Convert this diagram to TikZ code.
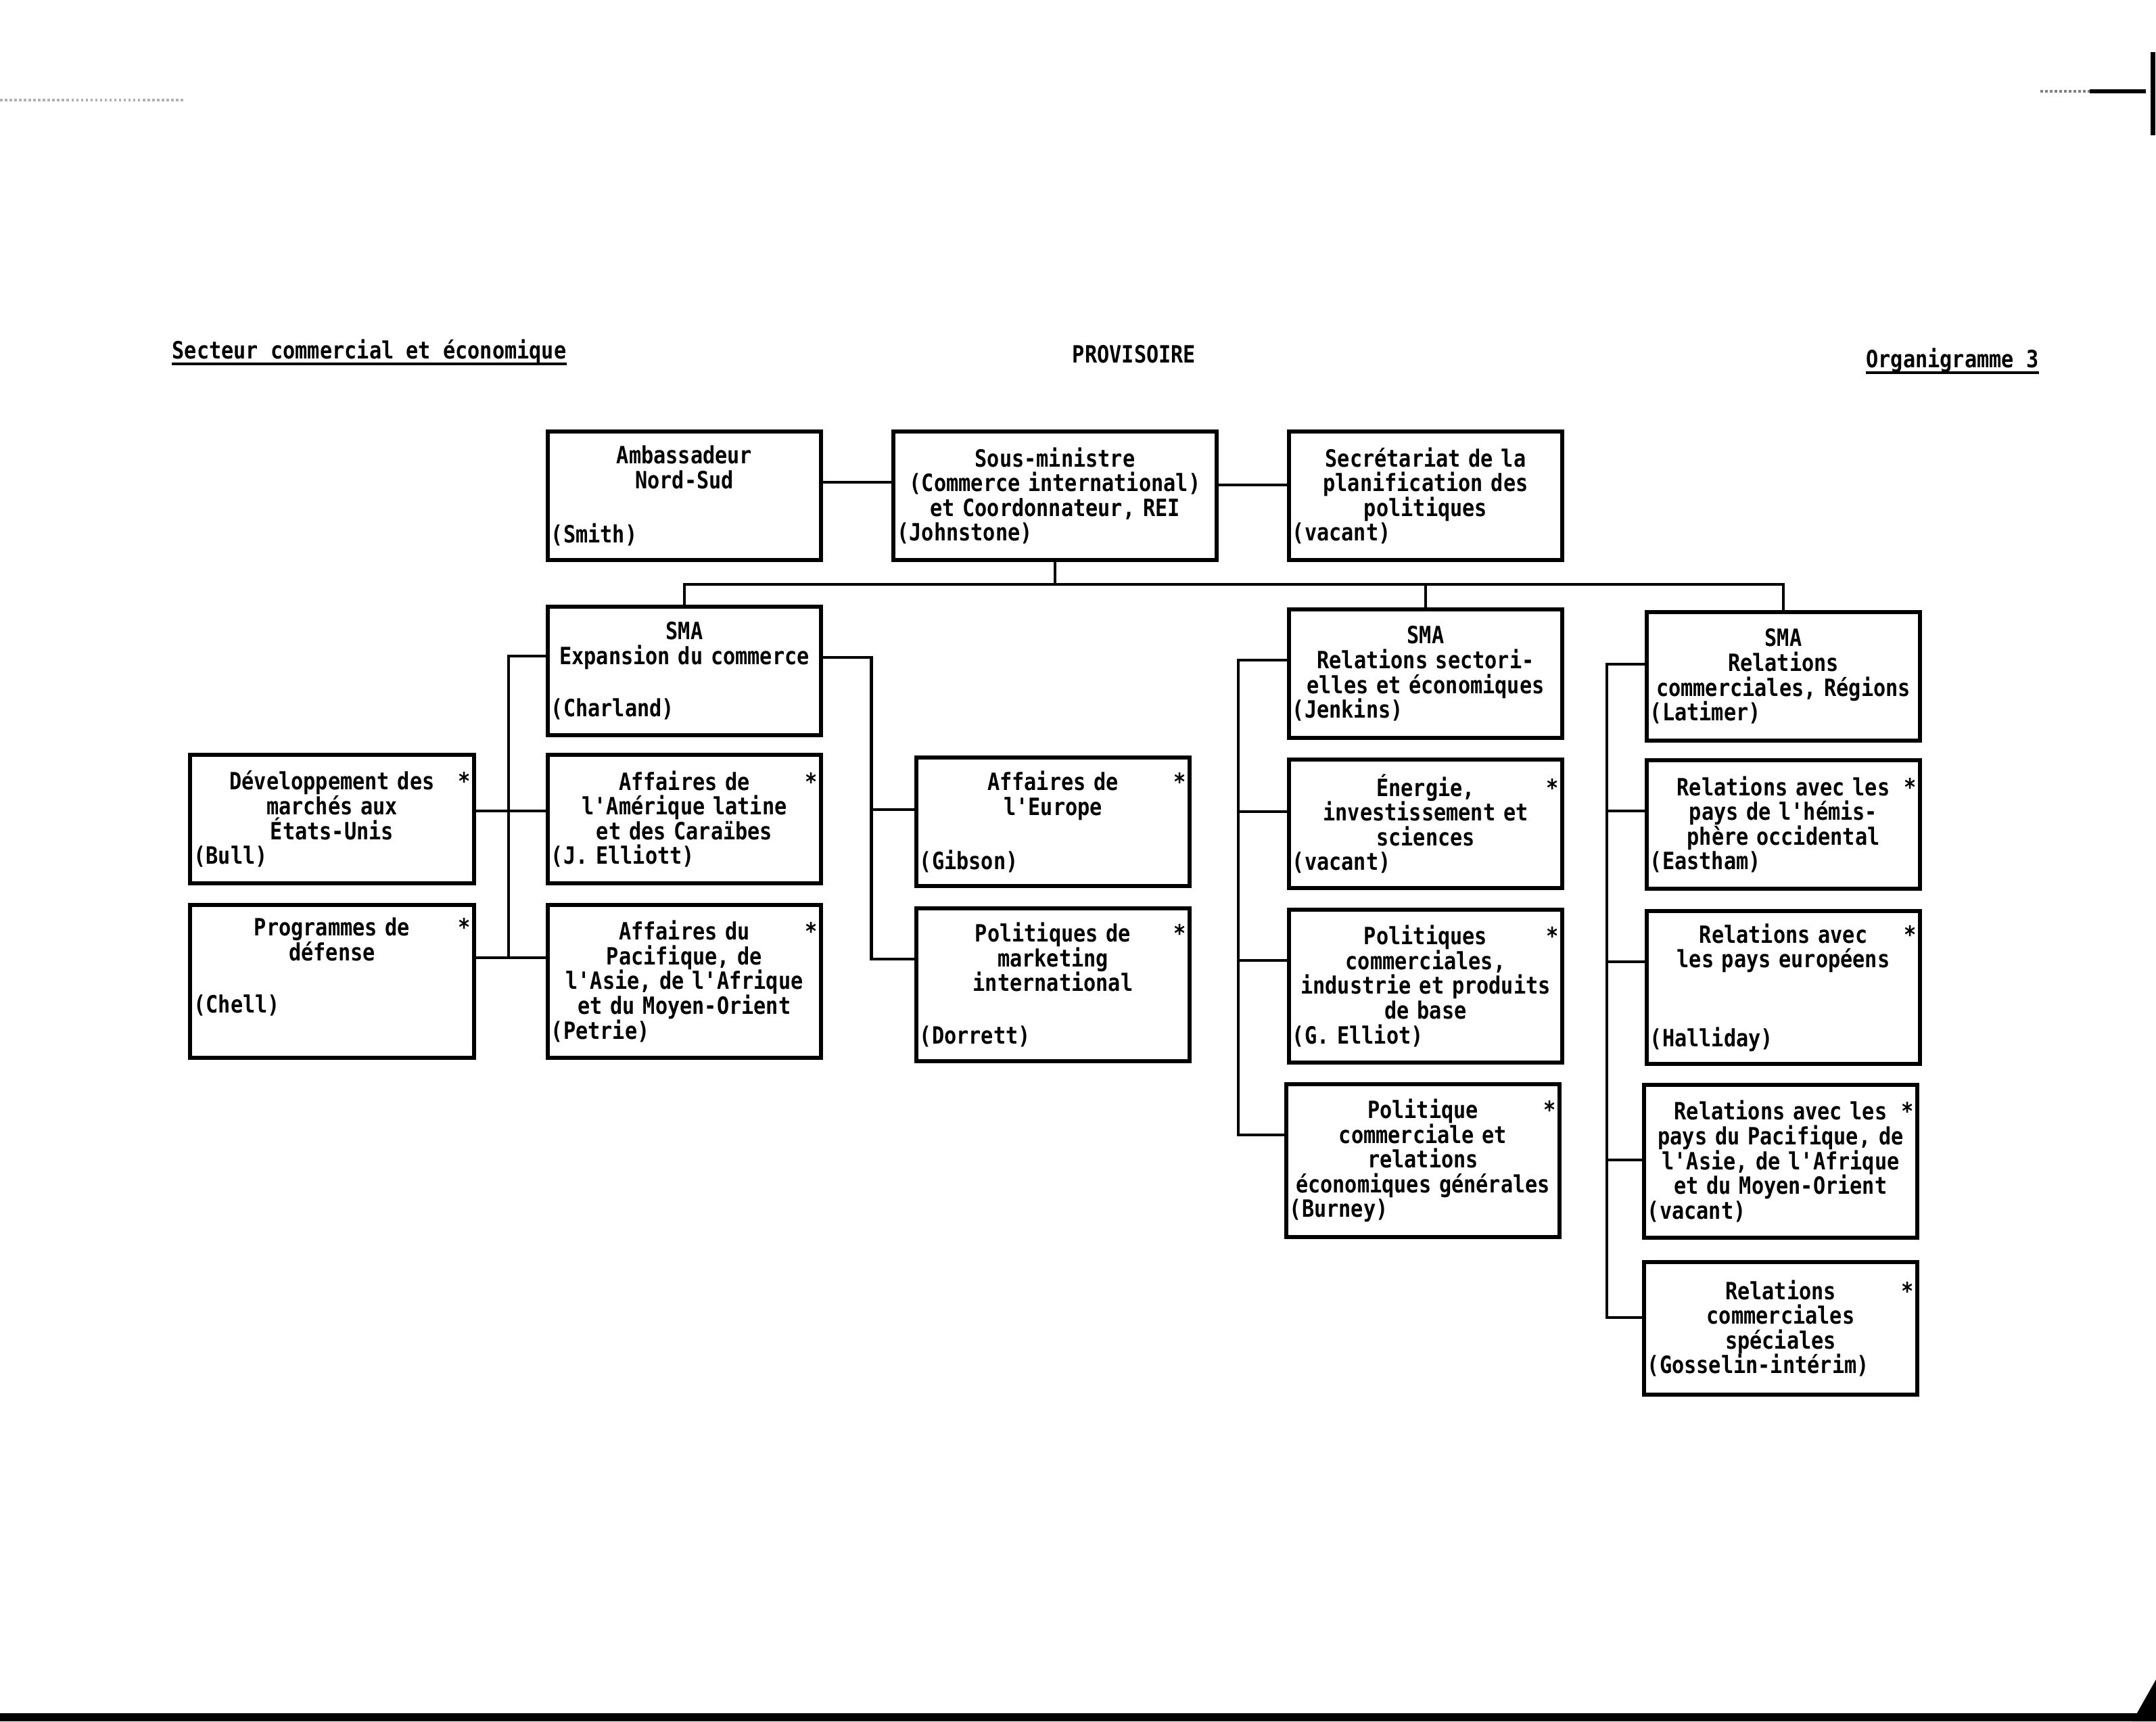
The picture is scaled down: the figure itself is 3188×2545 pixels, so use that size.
\documentclass[tikz,border=0pt]{standalone}
\usepackage{fontspec}
\usepackage{tikz}
\usetikzlibrary{calc}
\newfontfamily\orgfont[FakeStretch=0.86]{DejaVu Sans Mono}
\newcommand{\who}[1]{\makebox[\hsize][l]{#1}}
\newcommand{\hd}[1]{\makebox[\hsize]{\hfill#1\hfill\llap{*}}}

\begin{document}
\begin{tikzpicture}[x=0.01cm, y=-0.01cm,
    every node/.style={font=\orgfont\bfseries\fontsize{10}{10.4}\selectfont},
    poste/.style={draw, line width=1.7pt, inner xsep=1.5pt, inner ysep=0pt, align=center,
                  text width=3.94cm, minimum height=1.89cm},
    postehaut/.style={poste, minimum height=2.26cm},
    lien/.style={line width=1.2pt},
    titre/.style={inner sep=0pt}]
    \useasboundingbox (0,0) rectangle (3188,2545);

    % En-tete
    \node[titre, anchor=west] (secteur) at (254,520) {Secteur commercial et économique};
    \draw[lien] ([yshift=-2pt]secteur.base west) -- ([yshift=-2pt]secteur.base east);
    \node[titre] (prov) at (1677,524) {PROVISOIRE};
    \node[titre, anchor=east] (organi) at (3015,533) {Organigramme 3};
    \draw[lien] ([yshift=-2pt]organi.base west) -- ([yshift=-2pt]organi.base east);

    % Sous-ministre et voisins
    \node[poste] (amb) at (1012,733) {Ambassadeur\\Nord-Sud\\ \strut\\ \who{(Smith)}};
    \node[poste, text width=4.67cm] (sm) at (1560,733) {
        Sous-ministre\\
        (Commerce international)\\
        et Coordonnateur, REI\\
        \who{(Johnstone)}};
    \node[poste] (sec) at (2108,733) {Secrétariat de la\\planification des\\politiques\\ \who{(vacant)}};
    \draw[lien] ([yshift=0.2cm]amb.east) -- ([yshift=0.2cm]amb.east -| sm.west);
    \draw[lien] ([yshift=0.16cm]sm.east) -- ([yshift=0.16cm]sm.east -| sec.west);

    % SMA
    \node[poste] (sma1) at (1012,992) {SMA\\Expansion du commerce\\ \strut\\ \who{(Charland)}};
    \node[poste] (sma2) at (2108,996) {SMA\\Relations sectori-\\elles et économiques\\ \who{(Jenkins)}};
    \node[poste] (sma3) at (2637,1000) {SMA\\Relations\\commerciales, Régions\\ \who{(Latimer)}};
    \coordinate (bus) at (1560,864);
    \draw[lien] (sm.south) -- (sm.south |- bus);
    \draw[lien] (sma1.north) |- (bus) -| (sma3.north);
    \draw[lien] (sma2.north) -- (sma2.north |- bus);

    % Expansion du commerce
    \node[poste, text width=4.09cm] (dev) at (491,1211) {
        \hd{Développement des}\\marchés aux\\États-Unis\\ \who{(Bull)}};
    \node[postehaut, text width=4.09cm] (prog) at (491,1451) {
        \hd{Programmes de}\\défense\\ \strut\\ \who{(Chell)}\\ \strut};
    \node[poste] (aflat) at (1012,1211) {
        \hd{Affaires de}\\l'Amérique latine\\et des Caraïbes\\ \who{(J. Elliott)}};
    \node[postehaut] (afpac) at (1012,1451) {
        \hd{Affaires du}\\Pacifique, de\\l'Asie, de l'Afrique\\et du Moyen-Orient\\ \who{(Petrie)}};
    \node[poste] (europe) at (1557,1215) {
        \hd{Affaires de}\\l'Europe\\ \strut\\ \who{(Gibson)}};
    \node[postehaut] (mkt) at (1557,1456) {
        \hd{Politiques de}\\marketing\\international\\ \strut\\ \who{(Dorrett)}};
    \draw[lien] ([yshift=0.22cm]sma1.west) -- ++(-55,0) coordinate (t1) |- ([yshift=0.35cm]afpac.west);
    \draw[lien] ([yshift=0.12cm]dev.east) -- ([yshift=0.12cm]aflat.west);
    \draw[lien] ([yshift=0.35cm]prog.east) -- ([yshift=0.35cm]afpac.west);
    \draw[lien] ([yshift=0.2cm]sma1.east) -- ++(71,0) coordinate (t2) |- ([yshift=0.38cm]mkt.west);
    \draw[lien] ([yshift=0.18cm]europe.west) -- ([yshift=0.18cm]europe.west -| t2);

    % Relations sectorielles
    \node[poste] (energie) at (2108,1218) {
        \hd{Énergie,}\\investissement et\\sciences\\ \who{(vacant)}};
    \node[postehaut] (polcom) at (2108,1458) {
        \hd{Politiques}\\commerciales,\\industrie et produits\\de base\\ \who{(G. Elliot)}};
    \node[postehaut] (polgen) at (2104,1716) {
        \hd{Politique}\\commerciale et\\relations\\économiques générales\\ \who{(Burney)}};
    \draw[lien] ([yshift=0.2cm]sma2.west) -- ++(-72,0) coordinate (t3) |- ([yshift=0.38cm]polgen.west);
    \draw[lien] ([yshift=0.18cm]energie.west) -- ([yshift=0.18cm]energie.west -| t3);
    \draw[lien] ([yshift=0.38cm]polcom.west) -- ([yshift=0.38cm]polcom.west -| t3);

    % Relations commerciales, Regions
    \node[poste] (hemis) at (2637,1219) {
        \hd{Relations avec les}\\pays de l'hémis-\\phère occidental\\ \who{(Eastham)}};
    \node[postehaut] (europeens) at (2637,1460) {
        \hd{Relations avec}\\les pays européens\\ \strut\\ \strut\\ \who{(Halliday)}};
    \node[postehaut] (pac2) at (2633,1717) {
        \hd{Relations avec les}\\pays du Pacifique, de\\l'Asie, de l'Afrique\\et du Moyen-Orient\\ \who{(vacant)}};
    \node[poste, minimum height=1.95cm] (spec) at (2633,1964) {
        \hd{Relations}\\commerciales\\spéciales\\ \who{(Gosselin-intérim)}};
    \draw[lien] ([yshift=0.18cm]sma3.west) -- ++(-56,0) coordinate (t4) |- ([yshift=0.16cm]spec.west);
    \draw[lien] ([yshift=0.2cm]hemis.west) -- ([yshift=0.2cm]hemis.west -| t4);
    \draw[lien] ([yshift=0.38cm]europeens.west) -- ([yshift=0.38cm]europeens.west -| t4);
    \draw[lien] ([yshift=0.02cm]pac2.west) -- ([yshift=0.02cm]pac2.west -| t4);

    % bords de la page
    \fill (0,2533) rectangle (3188,2545);
    \fill (3153,2545) -- (3188,2483) -- (3188,2545) -- cycle;
    \fill (3180,77) rectangle (3187,200);
    \draw[line width=1.5pt] (3090,135) -- (3173,135);
    \draw[gray, densely dotted, line width=1pt] (3017,135) -- (3090,135);
    \draw[gray!60, densely dotted, line width=1pt] (0,148) -- (272,148);
\end{tikzpicture}
\end{document}
